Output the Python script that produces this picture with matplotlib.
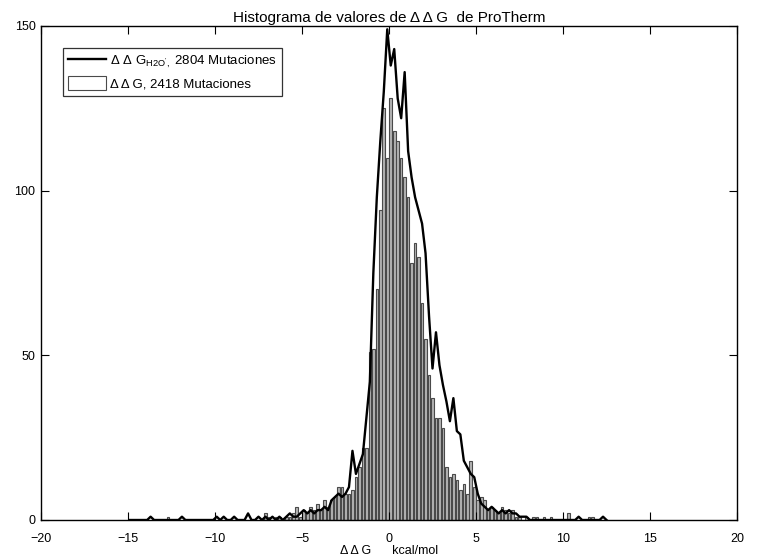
import numpy as np
import matplotlib
matplotlib.use("Agg")
import matplotlib.pyplot as plt
from matplotlib.patches import Patch
from matplotlib.lines import Line2D

plt.rcParams['font.family'] = ['Liberation Sans', 'DejaVu Sans']
plt.rcParams['mathtext.default'] = 'regular'

# ---------------- Datos ----------------
# histograma de ΔΔG (barras), centros cada 0.2 desde -7.1 hasta 9.5
bar_start = -7.1
bar_counts = [2, 1, 0, 1, 1, 0, 1, 1, 2, 4,
              1, 3, 2, 4, 3, 5, 3, 6, 4, 6,
              7, 10, 10, 8, 8, 9, 13, 16, 22, 22,
              51, 52, 70, 94, 125, 110, 128, 118, 115, 110,
              104, 98, 78, 84, 80, 66, 55, 44, 37, 31,
              31, 28, 16, 13, 14, 12, 9, 11, 8, 18,
              10, 6, 7, 6, 3, 4, 3, 2, 4, 3,
              2, 3, 1, 1, 0, 1, 0, 1, 1, 0,
              1, 0, 1, 0]
# barras sueltas en las colas
bar_tail_x = [-12.7, 10.3, 11.5, 11.7]
bar_tail_counts = [1, 2, 1, 1]

# histograma de ΔΔG_H2O (linea), centros cada 0.2 desde -7.1 hasta 8.1
line_start = -7.1
line_counts = [1, 0, 1, 0, 1, 0, 1, 2, 1, 1,
               2, 3, 2, 3, 2, 3, 3, 4, 3, 6,
               7, 8, 7, 8, 10, 21, 14, 17, 20, 31,
               42, 75, 98, 115, 130, 149, 138, 143, 128, 122,
               136, 112, 104, 98, 94, 90, 81, 62, 46, 57,
               47, 41, 36, 30, 37, 27, 26, 18, 16, 14,
               13, 8, 5, 4, 3, 4, 3, 2, 3, 2,
               3, 2, 2, 1, 1, 1, 0]
# picos sueltos en las colas
line_tail_x = [-13.7, -11.9, -9.9, -9.5, -8.9, -8.1, -7.5, 10.9, 12.3]
line_tail_counts = [1, 1, 1, 1, 1, 2, 1, 1, 1]

bw = 0.2

# ---------------- Armado de series ----------------
bar_x = np.round(bar_start + bw * np.arange(len(bar_counts)), 1)
bx = np.concatenate([bar_x, bar_tail_x])
by = np.concatenate([bar_counts, bar_tail_counts])

grid = np.round(np.arange(-14.9, 12.6, bw), 1)
ly = np.zeros(len(grid))
core_x = np.round(line_start + bw * np.arange(len(line_counts)), 1)
for x, c in zip(core_x, line_counts):
    ly[np.argmin(np.abs(grid - x))] = c
for x, c in zip(line_tail_x, line_tail_counts):
    ly[np.argmin(np.abs(grid - x))] = c

# ---------------- Grafico ----------------
fig = plt.figure(figsize=(7.58, 5.58), dpi=100)
ax = fig.add_axes([41 / 758, 1 - 520 / 558, 696 / 758, 494 / 558])

ax.bar(bx, by, width=0.15, facecolor='#b4b4b4', edgecolor='#4a4a4a', linewidth=0.8)
ax.plot(grid, ly, color='black', linewidth=1.7)

ax.set_xlim(-20, 20)
ax.set_ylim(0, 150)
ax.set_xticks(np.arange(-20, 21, 5))
ax.set_yticks([0, 50, 100, 150])
ax.tick_params(direction='in', top=True, right=True, length=6, labelsize=9)
ax.tick_params(axis='x', pad=9)
ax.tick_params(axis='y', pad=4)
for s in ax.spines.values():
    s.set_linewidth(1.0)

ax.set_title('Histograma de valores de Δ Δ G  de ProTherm', fontsize=11, pad=3)
ax.set_xlabel('Δ Δ G      kcal/mol', fontsize=9, labelpad=0)

handles = [Line2D([], [], color='black', linewidth=1.7),
           Patch(facecolor='white', edgecolor='#4a4a4a', linewidth=0.8)]
labels = ['Δ Δ G$_{H2O\',}$ 2804 Mutaciones', 'Δ Δ G, 2418 Mutaciones']
leg = ax.legend(handles, labels, loc='upper left', bbox_to_anchor=(0.031, 0.955),
                fontsize=9.5, frameon=True, fancybox=False, edgecolor='black',
                handlelength=2.9, handleheight=1.3, borderpad=0.4,
                labelspacing=0.4, handletextpad=0.3, borderaxespad=0)
leg.get_frame().set_linewidth(0.9)

fig.savefig('out.png', dpi=100)
